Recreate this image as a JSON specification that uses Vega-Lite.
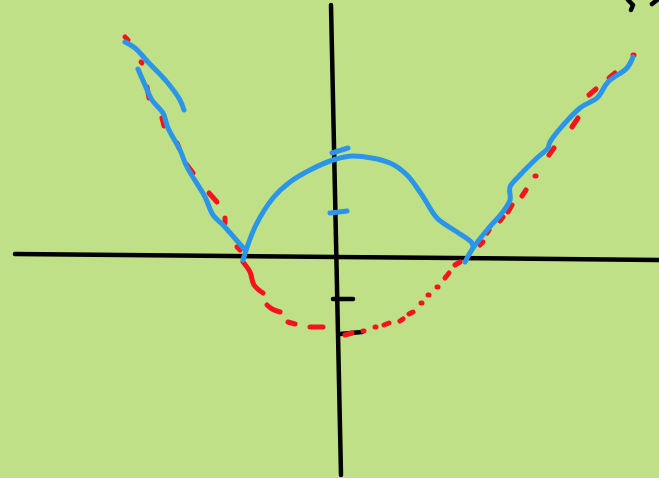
{"$schema":"https://vega.github.io/schema/vega-lite/v6.json","width":659,"height":478,"autosize":{"type":"fit","contains":"padding"},"padding":0,"background":"#bfe086","config":{"view":{"stroke":null}},
"datasets":{
"black":[{"g":"a1","i":0,"x":-7,"y":250},{"g":"a1","i":1,"x":3,"y":-220},{"g":"a2","i":0,"x":-323,"y":1},{"g":"a2","i":1,"x":321,"y":-5},{"g":"t1","i":0,"x":-5,"y":-44},{"g":"t1","i":1,"x":15,"y":-44},{"g":"t2","i":0,"x":2,"y":-79},{"g":"t2","i":1,"x":24,"y":-77},{"g":"c1","i":0,"x":290,"y":255},{"g":"c1","i":1,"x":295,"y":250},{"g":"c1","i":2,"x":293,"y":245},{"g":"c2","i":0,"x":314,"y":251},{"g":"c2","i":1,"x":319,"y":255}],
"red":[{"g":"r1","i":0,"x":-213,"y":218},{"g":"r1","i":1,"x":-210,"y":215},{"g":"r2","i":0,"x":-197,"y":193},{"g":"r2","i":1,"x":-196,"y":192},{"g":"r3","i":0,"x":-191,"y":168},{"g":"r3","i":1,"x":-189,"y":157},{"g":"r4","i":0,"x":-176,"y":137},{"g":"r4","i":1,"x":-174,"y":129},{"g":"r5","i":0,"x":-161,"y":112},{"g":"r5","i":1,"x":-159,"y":107},{"g":"r6","i":0,"x":-151,"y":90},{"g":"r6","i":1,"x":-145,"y":82},{"g":"r7","i":0,"x":-129,"y":62},{"g":"r7","i":1,"x":-121,"y":53},{"g":"r8","i":0,"x":-113,"y":37},{"g":"r8","i":1,"x":-113,"y":32},{"g":"r9","i":0,"x":-101,"y":8},{"g":"r9","i":1,"x":-98,"y":5},{"g":"r10","i":0,"x":-95,"y":-7},{"g":"r10","i":1,"x":-88,"y":-17},{"g":"r10","i":2,"x":-84,"y":-30},{"g":"r10","i":3,"x":-75,"y":-38},{"g":"r11","i":0,"x":-71,"y":-50},{"g":"r11","i":1,"x":-66,"y":-54},{"g":"r11","i":2,"x":-58,"y":-57},{"g":"r12","i":0,"x":-50,"y":-67},{"g":"r12","i":1,"x":-43,"y":-69},{"g":"r13","i":0,"x":-28,"y":-72},{"g":"r13","i":1,"x":-15,"y":-72},{"g":"r14","i":0,"x":7,"y":-80},{"g":"r14","i":1,"x":14,"y":-78},{"g":"r15","i":0,"x":25,"y":-76},{"g":"r15","i":1,"x":26,"y":-76},{"g":"r16","i":0,"x":37,"y":-72},{"g":"r16","i":1,"x":38,"y":-72},{"g":"r17","i":0,"x":46,"y":-70},{"g":"r17","i":1,"x":51,"y":-68},{"g":"r18","i":0,"x":62,"y":-66},{"g":"r18","i":1,"x":65,"y":-64},{"g":"r19","i":0,"x":71,"y":-59},{"g":"r19","i":1,"x":75,"y":-57},{"g":"r20","i":0,"x":83,"y":-48},{"g":"r20","i":1,"x":84,"y":-48},{"g":"r21","i":0,"x":90,"y":-40},{"g":"r21","i":1,"x":91,"y":-40},{"g":"r22","i":0,"x":99,"y":-32},{"g":"r22","i":1,"x":100,"y":-32},{"g":"r23","i":0,"x":107,"y":-23},{"g":"r23","i":1,"x":111,"y":-18},{"g":"r24","i":0,"x":117,"y":-10},{"g":"r24","i":1,"x":122,"y":-7},{"g":"r25","i":0,"x":142,"y":10},{"g":"r25","i":1,"x":145,"y":13},{"g":"r26","i":0,"x":149,"y":22},{"g":"r26","i":1,"x":151,"y":25},{"g":"r27","i":0,"x":162,"y":34},{"g":"r27","i":1,"x":165,"y":38},{"g":"r28","i":0,"x":170,"y":43},{"g":"r28","i":1,"x":174,"y":50},{"g":"r29","i":0,"x":184,"y":59},{"g":"r29","i":1,"x":188,"y":65},{"g":"r30","i":0,"x":197,"y":79},{"g":"r30","i":1,"x":198,"y":79},{"g":"r31","i":0,"x":211,"y":100},{"g":"r31","i":1,"x":216,"y":107},{"g":"r32","i":0,"x":234,"y":128},{"g":"r32","i":1,"x":240,"y":137},{"g":"r33","i":0,"x":251,"y":160},{"g":"r33","i":1,"x":258,"y":166},{"g":"r34","i":0,"x":271,"y":177},{"g":"r34","i":1,"x":277,"y":182},{"g":"r35","i":0,"x":295,"y":200},{"g":"r35","i":1,"x":296,"y":200}],
"blue":[{"g":"b1","i":0,"x":-213,"y":213},{"g":"b1","i":1,"x":-203,"y":207},{"g":"b1","i":2,"x":-190,"y":193},{"g":"b1","i":3,"x":-171,"y":173},{"g":"b1","i":4,"x":-158,"y":155},{"g":"b1","i":5,"x":-154,"y":145},{"g":"b2","i":0,"x":-200,"y":186},{"g":"b2","i":1,"x":-193,"y":170},{"g":"b2","i":2,"x":-186,"y":155},{"g":"b2","i":3,"x":-175,"y":142},{"g":"b2","i":4,"x":-170,"y":127},{"g":"b2","i":5,"x":-158,"y":105},{"g":"b2","i":6,"x":-151,"y":88},{"g":"b2","i":7,"x":-133,"y":58},{"g":"b2","i":8,"x":-125,"y":40},{"g":"b2","i":9,"x":-115,"y":30},{"g":"b2","i":10,"x":-93,"y":5},{"g":"b3","i":0,"x":-95,"y":-5},{"g":"b3","i":1,"x":-83,"y":28},{"g":"b3","i":2,"x":-65,"y":57},{"g":"b3","i":3,"x":-48,"y":73},{"g":"b3","i":4,"x":-28,"y":85},{"g":"b3","i":5,"x":-5,"y":95},{"g":"b3","i":6,"x":15,"y":99},{"g":"b3","i":7,"x":52,"y":92},{"g":"b3","i":8,"x":69,"y":80},{"g":"b3","i":9,"x":84,"y":60},{"g":"b3","i":10,"x":99,"y":37},{"g":"b3","i":11,"x":119,"y":23},{"g":"b3","i":12,"x":134,"y":12},{"g":"b3","i":13,"x":135,"y":7},{"g":"b4","i":0,"x":127,"y":-7},{"g":"b4","i":1,"x":135,"y":7},{"g":"b4","i":2,"x":149,"y":25},{"g":"b4","i":3,"x":164,"y":42},{"g":"b4","i":4,"x":172,"y":55},{"g":"b4","i":5,"x":172,"y":68},{"g":"b4","i":6,"x":182,"y":80},{"g":"b4","i":7,"x":199,"y":97},{"g":"b4","i":8,"x":210,"y":107},{"g":"b4","i":9,"x":212,"y":113},{"g":"b4","i":10,"x":242,"y":147},{"g":"b4","i":11,"x":259,"y":157},{"g":"b4","i":12,"x":270,"y":173},{"g":"b4","i":13,"x":289,"y":187},{"g":"b4","i":14,"x":295,"y":198},{"g":"b5","i":0,"x":-6,"y":102},{"g":"b5","i":1,"x":10,"y":107},{"g":"b6","i":0,"x":-8,"y":42},{"g":"b6","i":1,"x":9,"y":44}]
},
"encoding":{"x":{"field":"x","type":"quantitative","scale":{"domain":[-338,321],"nice":false,"zero":false},"axis":null},"y":{"field":"y","type":"quantitative","scale":{"domain":[-223,255],"nice":false,"zero":false},"axis":null},"detail":{"field":"g"},"order":{"field":"i"}},
"layer":[
{"data":{"name":"black"},"mark":{"type":"line","color":"#000000","strokeWidth":4.5,"strokeCap":"round","strokeJoin":"round","clip":true}},
{"data":{"name":"red"},"mark":{"type":"line","color":"#f5141e","strokeWidth":5,"strokeCap":"round","strokeJoin":"round","interpolate":"catmull-rom"}},
{"data":{"name":"blue"},"mark":{"type":"line","color":"#2b96e8","strokeWidth":5,"strokeCap":"round","strokeJoin":"round","interpolate":"catmull-rom"}}
]}
